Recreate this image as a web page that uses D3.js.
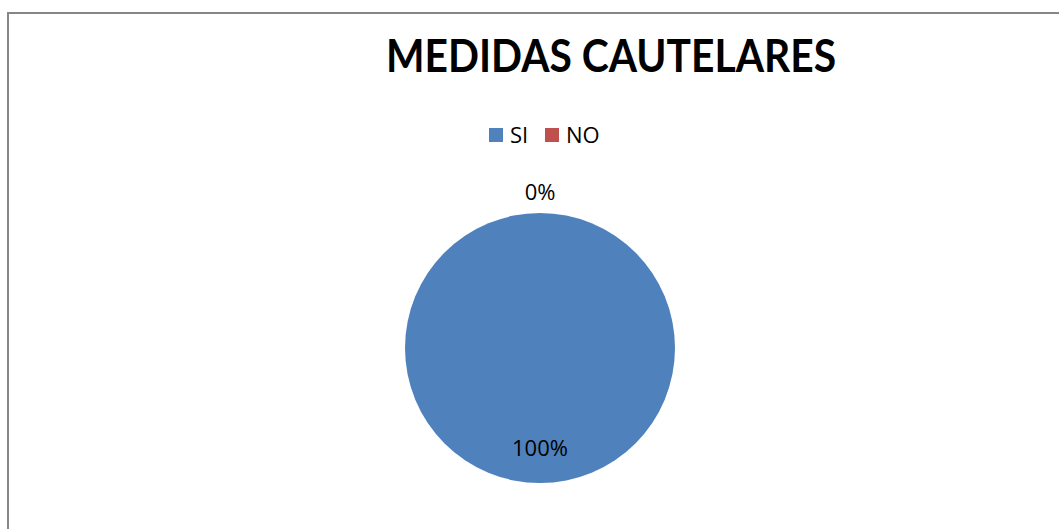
<!DOCTYPE html>
<html>
<head>
<meta charset="utf-8">
<script src="https://cdn.jsdelivr.net/npm/d3@7"></script>
<style>
  body { margin: 0; background: #fff; }
  text { font-family: "Open Sans", "Noto Sans", sans-serif; }
</style>
</head>
<body>
<div id="chart"></div>
<script>
// chart data
var categories = ["SI", "NO"];
var values = [100, 0];
var colors = ["#4F81BD", "#C0504D"];
var title = "MEDIDAS CAUTELARES";

var svgWidth = 1059;
var svgHeight = 529;

var svg = d3.select("#chart")
  .append("svg")
  .attr("width", svgWidth)
  .attr("height", svgHeight);

// outer frame
svg.append("rect")
  .attr("x", 8)
  .attr("y", 13)
  .attr("width", 1100)
  .attr("height", 600)
  .attr("fill", "#fff")
  .attr("stroke", "#868686")
  .attr("stroke-width", 2);

// title
svg.append("text")
  .attr("x", 611)
  .attr("y", 72)
  .attr("text-anchor", "middle")
  .style("font-family", "Lato, 'Open Sans', sans-serif")
  .style("font-size", "45px")
  .style("font-weight", "bold")
  .attr("textLength", 450)
  .attr("lengthAdjust", "spacingAndGlyphs")
  .text(title);

// legend
var legendX = [489, 545];
var legend = svg.selectAll(".legend")
  .data(categories)
  .enter()
  .append("g")
  .attr("class", "legend")
  .attr("transform", (d, i) => `translate(${legendX[i]}, 128)`);

legend.append("rect")
  .attr("width", 14)
  .attr("height", 14)
  .attr("fill", (d, i) => colors[i]);

legend.append("text")
  .attr("x", 21)
  .attr("y", 15)
  .style("font-size", "22px")
  .text(d => d);

// pie
var cx = 540, cy = 348, radius = 135;
var pieData = categories.map((c, i) => ({ name: c, value: values[i], color: colors[i] }));

var pie = d3.pie()
  .sort(null)
  .value(d => d.value);

var arc = d3.arc()
  .innerRadius(0)
  .outerRadius(radius);

var pieGroup = svg.append("g")
  .attr("transform", `translate(${cx}, ${cy})`);

var arcs = pie(pieData);

pieGroup.selectAll("path")
  .data(arcs)
  .enter()
  .append("path")
  .attr("d", arc)
  .attr("fill", d => d.data.color);

// data labels: inside for big slice, outside for the empty one
var outerArc = d3.arc().innerRadius(radius * 1.15).outerRadius(radius * 1.15);

pieGroup.selectAll(".lbl")
  .data(arcs)
  .enter()
  .append("text")
  .attr("class", "lbl")
  .attr("text-anchor", "middle")
  .style("font-size", "22px")
  .attr("transform", function (d) {
    var p;
    if (d.data.value === 0) {
      p = outerArc.centroid(d);
    } else {
      // put the label at the bottom of the full circle
      p = [0, radius * 0.75];
    }
    return `translate(${p[0]}, ${p[1] + 7})`;
  })
  .text(d => d.data.value + "%");
</script>
</body>
</html>
